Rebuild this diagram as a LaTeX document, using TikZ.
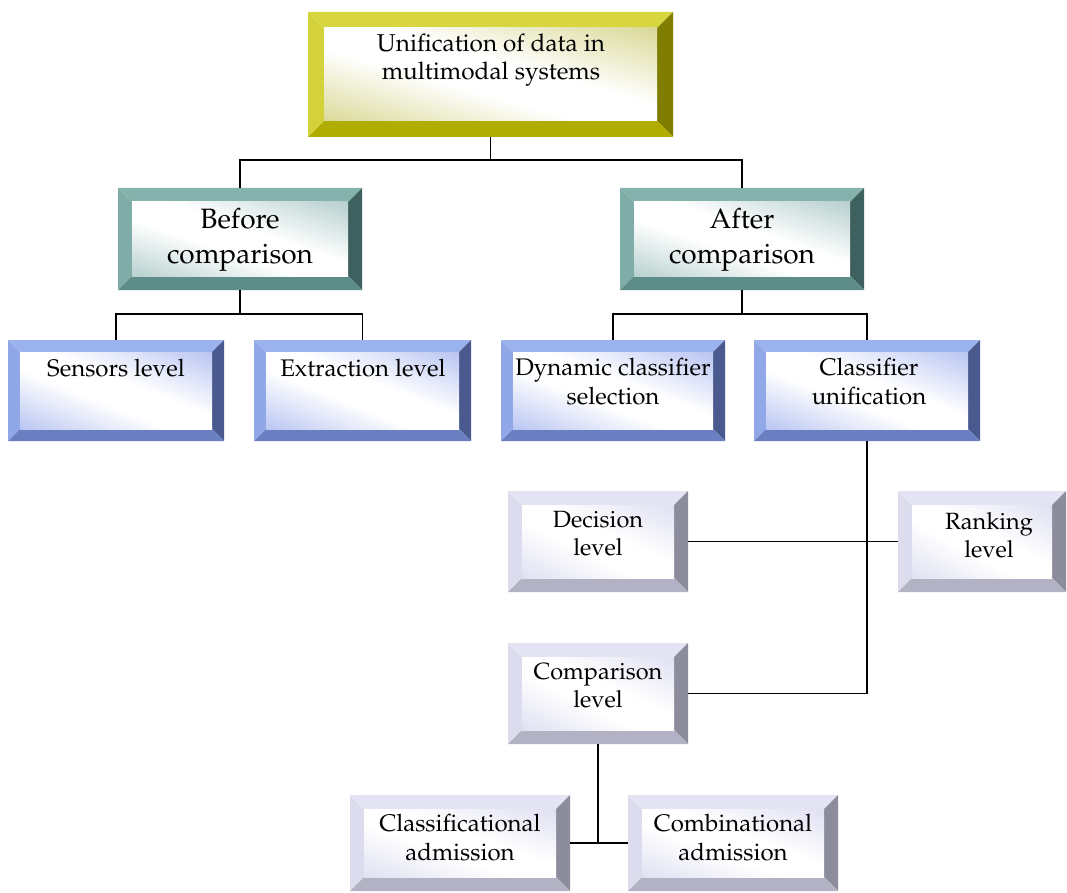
\documentclass[tikz,border=0pt]{standalone}
\usepackage[T1]{fontenc}
\usepackage{mathpazo}
\begin{document}
% palettes: T top, L left, R right, B bottom, I inner tint
\definecolor{yelT}{RGB}{216,214,62}
\definecolor{yelL}{RGB}{212,210,58}
\definecolor{yelR}{RGB}{128,126,0}
\definecolor{yelB}{RGB}{176,172,0}
\definecolor{yelI}{RGB}{200,198,100}
\definecolor{tealT}{RGB}{134,178,174}
\definecolor{tealL}{RGB}{128,172,168}
\definecolor{tealR}{RGB}{62,96,94}
\definecolor{tealB}{RGB}{94,140,136}
\definecolor{tealI}{RGB}{146,184,182}
\definecolor{bluT}{RGB}{154,178,238}
\definecolor{bluL}{RGB}{144,168,232}
\definecolor{bluR}{RGB}{74,90,142}
\definecolor{bluB}{RGB}{106,127,194}
\definecolor{bluI}{RGB}{150,168,236}
\definecolor{lavT}{RGB}{228,228,244}
\definecolor{lavL}{RGB}{220,220,238}
\definecolor{lavR}{RGB}{140,140,156}
\definecolor{lavB}{RGB}{178,178,196}
\definecolor{lavI}{RGB}{208,208,236}
\colorlet{tint}{lavI}
% diagonal glow: tinted at two opposite corners, white band in between
\pgfdeclareverticalshading[tint]{glow}{100bp}{%
  color(0bp)=(tint); color(42bp)=(white); color(56bp)=(white); color(100bp)=(tint)}
% bevelled frame with a named node spanning it
% #1 name, #2 palette, #3 x1, #4 y1, #5 x2, #6 y2, #7 bevel width
\newcommand\bevelbox[7]{%
  \fill[#2L] (#3,#4) -- (#3+#7,#4+#7) -- (#3+#7,#6-#7) -- (#3,#6) -- cycle;
  \fill[#2T] (#3,#4) -- (#5,#4) -- (#5-#7,#4+#7) -- (#3+#7,#4+#7) -- cycle;
  \fill[#2R] (#5,#4) -- (#5,#6) -- (#5-#7,#6-#7) -- (#5-#7,#4+#7) -- cycle;
  \fill[#2B] (#3,#6) -- (#5,#6) -- (#5-#7,#6-#7) -- (#3+#7,#6-#7) -- cycle;
  \colorlet{tint}{#2I}%
  \shade[shading=glow, shading angle=-45,
    transform canvas={shift={({(#3+#5)/2},{(#4+#6)/2})},
      xscale={(#5-#3-2*#7)/50}, yscale={(#6-#4-2*#7)/50}}]
    (-25pt,-25pt) rectangle (25pt,25pt);
  \node[inner sep=0pt, outer sep=0pt, minimum width={#5-#3}, minimum height={#6-#4}]
    (#1) at ({(#3+#5)/2},{(#4+#6)/2}) {};
}
\begin{tikzpicture}[x=1pt,y=-1pt,
  conn/.style={line width=1.8pt, black},
  lbl/.style={align=center, inner sep=0pt, text=black}]
\useasboundingbox (0,0) rectangle (1067,893);

\bevelbox{top}{yel}{308}{12}{673}{137}{16}
\bevelbox{before}{teal}{118}{188}{362}{290}{14}
\bevelbox{after}{teal}{620}{188}{864}{290}{14}
\bevelbox{sensors}{blu}{8}{340}{224}{441}{12}
\bevelbox{extract}{blu}{254}{340}{471}{441}{12}
\bevelbox{dynamic}{blu}{501}{340}{725}{441}{12}
\bevelbox{unif}{blu}{754}{340}{980}{441}{12}
\bevelbox{decision}{lav}{508}{491}{688}{592}{14}
\bevelbox{ranking}{lav}{898}{491}{1066}{592}{14}
\bevelbox{compar}{lav}{508}{643}{688}{744}{14}
\bevelbox{classif}{lav}{350}{795}{570}{891}{14}
\bevelbox{combin}{lav}{628}{795}{838}{891}{14}

% texts
\node[lbl, font=\fontsize{24.3}{28}\selectfont] (top-t) at (491,60) {Unification of data in\\multimodal systems};
\node[lbl, font=\fontsize{28}{35}\selectfont] (before-t) at (240,240) {Before\\comparison};
\node[lbl, font=\fontsize{28}{35}\selectfont] (after-t) at (742,240) {After\\comparison};
\node[lbl, font=\fontsize{24}{29}\selectfont] (sensors-t) at (116,368) {Sensors level};
\node[lbl, font=\fontsize{24}{29}\selectfont] (extract-t) at (363,368) {Extraction level};
\node[lbl, font=\fontsize{24}{29}\selectfont] (dynamic-t) at (613,382) {Dynamic classifier\\selection};
\node[lbl, font=\fontsize{24}{29}\selectfont] (unif-t) at (869,382) {Classifier\\unification};
\node[lbl, font=\fontsize{23.5}{28}\selectfont] (decision-t) at (598,534) {Decision\\level};
\node[lbl, font=\fontsize{23.5}{28}\selectfont] (ranking-t) at (989,535) {Ranking\\level};
\node[lbl, font=\fontsize{23.5}{28}\selectfont] (compar-t) at (598,686) {Comparison\\level};
\node[lbl, font=\fontsize{24}{29}\selectfont] (classif-t) at (460,838) {Classificational\\admission};
\node[lbl, font=\fontsize{24}{29}\selectfont] (combin-t) at (733,838) {Combinational\\admission};

% connectors
\coordinate (h1) at (0,160);
\coordinate (h2) at (0,314);
\draw[conn] (top.south) -- (top.south |- h1);
\draw[conn] (before.north) -- (before.north |- h1) -- (after.north |- h1) -- (after.north);
\draw[conn] (before.south) -- (before.south |- h2);
\draw[conn] (sensors.north) -- (sensors.north |- h2) -- (extract.north |- h2) -- (extract.north);
\draw[conn] (after.south) -- (after.south |- h2);
\draw[conn] (dynamic.north) -- (dynamic.north |- h2) -- (unif.north |- h2) -- (unif.north);
\draw[conn] (decision.east) -- (ranking.west);
\draw[conn] (unif.south) |- (compar.east);
\draw[conn] (classif.east) -- (combin.west);
\draw[conn] (compar.south) -- (compar.south |- classif.east);
\end{tikzpicture}
\end{document}
